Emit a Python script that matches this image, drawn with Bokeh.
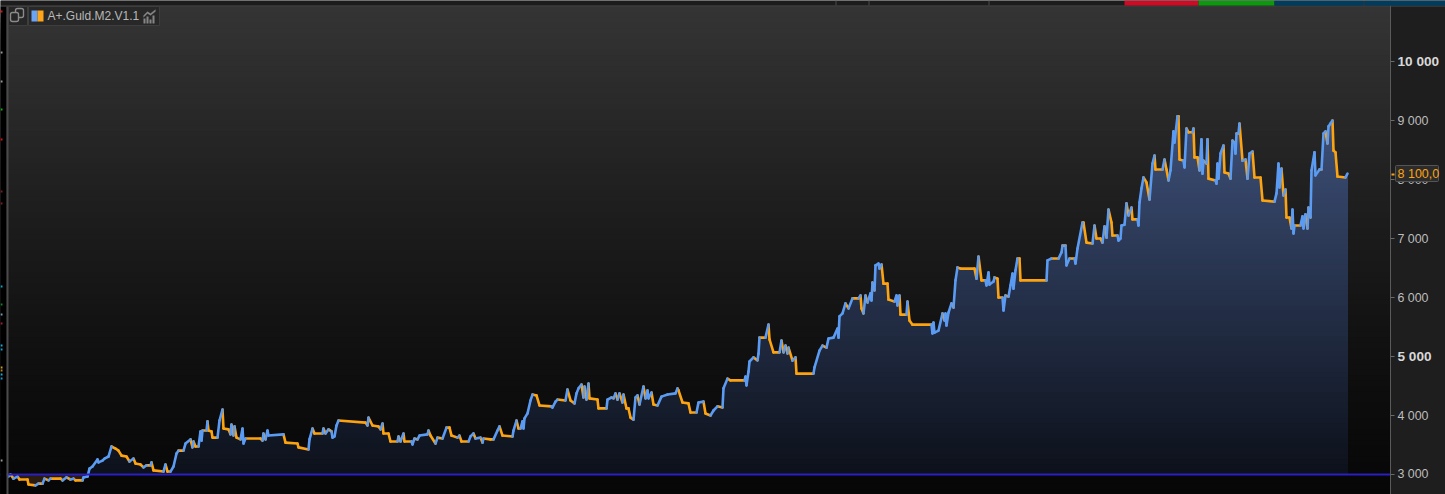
from bokeh.plotting import figure
from bokeh.embed import file_html
from bokeh.resources import INLINE
from bokeh.models import (BoxAnnotation, ColumnDataSource, FixedTicker, Label,
                          LinearAxis, PolyAnnotation, Range1d)
import numpy as np

# ---------- data ----------
series_name = "A+.Guld.M2.V1.1"
last_value_label = "8 100,0"
last_value = 8100
baseline_value = 3000
tick_values = [3000, 4000, 5000, 6000, 7000, 8000, 9000, 10000]
tick_labels = ["3 000", "4 000", "", "6 000", "7 000", "8 000", "9 000", ""]
bold_ticks = [(5000, "5 000"), (10000, "10 000")]

bars = [8,10,13,17,19,27,28,35,38,42,44,48,50,60,62,66,70,73,75,82,83,87,89,92,97,98,102,104,108,111,115,118,121,126,129,133,135,140,143,146,150,151,153,163,165,167,170,173,176,178,183,185,190,192,193,195,198,200,201,202,206,207,208,211,212,217,219,222,223,228,230,231,233,234,236,240,242,243,245,260,262,263,265,267,268,283,285,297,298,308,309,312,314,322,323,325,328,331,332,334,336,338,365,367,368,372,378,380,382,383,388,390,397,398,400,403,404,411,412,414,417,419,427,428,430,435,437,442,446,449,451,457,459,461,468,470,473,475,480,482,483,490,493,497,499,502,512,513,516,518,520,522,523,524,527,530,532,536,539,551,552,555,557,565,567,570,574,576,578,581,583,584,586,588,589,597,598,606,607,611,613,615,617,619,622,623,626,628,630,633,635,637,639,643,645,647,648,651,653,657,661,667,675,677,678,682,688,690,696,698,703,705,710,713,717,722,723,727,730,744,745,746,748,749,753,757,758,759,765,768,769,773,779,781,783,785,787,788,792,795,796,813,814,819,822,826,828,833,837,838,839,842,845,848,852,858,860,861,863,865,867,870,871,872,874,875,878,879,881,883,887,888,894,896,897,899,900,906,907,909,912,931,932,933,934,938,942,944,945,946,948,951,953,955,957,960,974,976,978,981,985,986,988,989,993,994,997,998,1002,1003,1005,1008,1010,1012,1013,1015,1017,1019,1020,1046,1047,1051,1058,1061,1062,1065,1066,1069,1074,1075,1077,1082,1083,1086,1092,1094,1096,1100,1102,1104,1106,1108,1111,1112,1117,1118,1120,1121,1124,1126,1128,1131,1132,1137,1138,1139,1141,1143,1146,1149,1152,1154,1155,1162,1164,1166,1168,1170,1173,1174,1177,1178,1179,1183,1184,1186,1188,1192,1193,1194,1197,1199,1201,1202,1203,1206,1207,1208,1215,1216,1217,1218,1220,1223,1224,1228,1230,1232,1234,1235,1236,1238,1239,1242,1245,1247,1249,1252,1254,1260,1262,1274,1276,1278,1279,1281,1283,1285,1286,1289,1291,1292,1293,1294,1300,1302,1303,1305,1307,1308,1310,1311,1314,1315,1319,1321,1323,1325,1327,1328,1330,1332,1333,1335,1337,1345,1347]

equity = [2965,3000,2930,2965,2915,2915,2830,2815,2845,2845,2930,2900,2930,2930,2900,2950,2915,2930,2900,2900,2950,2965,3100,3135,3255,3205,3235,3270,3305,3475,3440,3405,3320,3305,3220,3270,3185,3170,3120,3155,3155,3205,3070,3050,3170,3050,3050,3135,3355,3405,3405,3525,3595,3460,3560,3475,3475,3730,3575,3745,3745,3900,3745,3730,3625,3625,3915,4100,3780,3765,3680,3845,3660,3815,3625,3595,3780,3525,3610,3610,3575,3695,3595,3745,3660,3680,3540,3525,3460,3425,3595,3780,3695,3695,3780,3695,3765,3730,3625,3645,3830,3915,3880,3830,3965,3830,3815,3765,3865,3695,3695,3560,3560,3645,3560,3695,3560,3560,3510,3610,3595,3660,3680,3745,3660,3525,3625,3610,3795,3795,3660,3625,3660,3560,3560,3645,3695,3610,3625,3540,3610,3595,3595,3745,3815,3660,3645,3745,3915,3780,3780,3900,3780,3950,4035,4255,4355,4340,4170,4155,4135,4235,4270,4255,4440,4255,4205,4375,4460,4525,4305,4490,4270,4540,4290,4270,4120,4120,4270,4305,4290,4375,4270,4375,4220,4355,4120,4120,3965,3930,4305,4340,4185,4490,4290,4425,4290,4390,4185,4170,4320,4355,4375,4460,4425,4220,4205,4050,4050,4220,4235,4035,4000,4085,4155,4135,4460,4625,4595,4595,4660,4510,4745,4915,4985,4935,5050,5320,5320,5540,5290,5070,5070,5270,5070,5185,5050,5150,4930,4985,4710,4710,4815,5100,5185,5150,5305,5320,5475,5320,5680,5730,5900,5815,5985,5985,6035,5815,5730,6035,5915,6070,5950,6255,6120,6545,6575,6490,6560,6235,6235,5965,5930,6035,5865,6035,5710,5710,5930,5610,5540,5540,5390,5575,5405,5440,5730,5610,5730,5525,5745,5900,5830,6290,6510,6490,6490,6320,6695,6290,6290,6205,6425,6220,6270,6340,6320,6000,6000,5780,6035,6015,6205,6405,6150,6460,6660,6660,6290,6290,6630,6660,6660,6765,6880,6880,6545,6660,6660,6575,6830,7270,7270,6930,6915,7220,7000,7000,6930,7205,7015,7490,7270,7050,7050,6965,7000,7220,7235,7595,7390,7525,7325,7325,7220,7610,7850,8035,7950,7660,8270,8405,8170,8170,8340,8170,7985,8155,8815,8625,9070,9070,8340,8320,8205,8865,8800,8800,8865,8375,8375,8155,8680,8100,8320,8270,8680,8015,7985,7930,8270,8015,8440,8575,8120,8100,8015,8660,8625,8440,8780,8780,8950,8320,8340,8015,8440,8475,8035,8035,7645,7625,7765,8270,7865,8185,7730,7830,7355,7355,7170,7490,7085,7220,7220,7375,7170,7410,7170,7525,7355,8155,8460,8070,8170,8170,8780,8815,8610,8900,8950,9000,8490,8460,8050,8035,8100]

# ---------- canvas geometry ----------
W, H = 1445, 494
AXIS_X = 1390
Y_TOP, Y_BOTTOM = 11034, 2661
FRAME_TOP = Y_TOP - (Y_TOP - Y_BOTTOM) * 6 / H   # value at the plot's top edge

p = figure(width=W, height=H, output_backend="svg", toolbar_location=None,
           x_range=Range1d(0, W), y_range=Range1d(Y_BOTTOM, Y_TOP),
           x_axis_type=None, y_axis_type=None,
           min_border_left=0, min_border_right=0, min_border_top=0, min_border_bottom=0)
p.styles = {"position": "absolute", "left": "0", "top": "0"}
p.grid.visible = False
p.outline_line_color = None
p.border_fill_color = "#1e1e1e"
p.background_fill_color = "#1e1e1e"

# background gradient (each band reaches the bottom, so no seams)
bg_stops_y = [0.0, 0.2, 0.48, 0.70, 1.0]
bg_stops_g = [0x34, 0x29, 0x1a, 0x10, 0x06]
for t in np.linspace(0, 1, 90, endpoint=False):
    g = int(round(np.interp(t, bg_stops_y, bg_stops_g)))
    p.quad(left=0, right=AXIS_X, bottom=Y_BOTTOM,
           top=FRAME_TOP - t * (FRAME_TOP - Y_BOTTOM), color=f"#{g:02x}{g:02x}{g:02x}", line_width=0)

# area gradient under the curve
x = np.array(bars, float)
y = np.array(equity, float)
base = np.full_like(y, baseline_value)
levels = np.linspace(max(equity), baseline_value, 70, endpoint=False)
lo, hi = np.array([0x0c, 0x10, 0x1a]), np.array([0x3d, 0x50, 0x78])
for lv in levels:
    t = (lv - baseline_value) / (max(equity) - baseline_value)
    c = (lo + (hi - lo) * t).round().astype(int)
    p.varea(x=x, y1=base, y2=np.maximum(np.minimum(y, lv), base), color=f"#{c[0]:02x}{c[1]:02x}{c[2]:02x}")
p.varea(x=x, y1=np.minimum(y, base), y2=base, color="#2a1c10")

# the curve: blue while rising and in the narrowest dips, orange while flat or falling
BLUE, ORANGE = "#5b9bf2", "#fca311"
seg_colors = []
for i in range(len(equity) - 1):
    rising = equity[i + 1] > equity[i]
    dip = (not rising and i + 2 < len(equity) and equity[i + 2] > equity[i + 1]
           and bars[i + 1] - bars[i] <= 1)
    seg_colors.append(BLUE if rising or dip else ORANGE)
idx_o = [i for i, c in enumerate(seg_colors) if c == ORANGE]
idx_b = [i for i, c in enumerate(seg_colors) if c == BLUE]
for idx, col in ((idx_o, ORANGE), (idx_b, BLUE)):
    src = ColumnDataSource(dict(x0=[bars[i] for i in idx], y0=[equity[i] for i in idx],
                                x1=[bars[i + 1] for i in idx], y1=[equity[i + 1] for i in idx]))
    p.segment("x0", "y0", "x1", "y1", source=src, color=col, line_width=2.6, line_cap="round")

# baseline
p.segment(x0=[0], y0=[baseline_value], x1=[AXIS_X], y1=[baseline_value], color="#2a1fc4", line_width=1.8)

# right axis, drawn at a fixed place inside the frame
ax = LinearAxis(ticker=FixedTicker(ticks=tick_values))
ax.major_label_overrides = dict(zip(tick_values, tick_labels))
ax.axis_line_color = "#5a5a5a"
ax.major_tick_line_color = "#6a6a6a"
ax.major_tick_out = 4
ax.major_tick_in = 0
ax.minor_tick_line_color = None
ax.major_label_standoff = 3
ax.major_label_text_font = "Liberation Sans"
ax.major_label_text_font_size = "12.4px"
ax.major_label_text_color = "#bdbdbd"
ax.fixed_location = AXIS_X
p.add_layout(ax, "right")

for val, txt in bold_ticks:
    p.add_layout(Label(x=1397, y=val, x_units="screen", y_units="data", text=txt,
                       text_font="Liberation Sans", text_font_size="13.6px", text_font_style="bold",
                       text_color="#d8d8d8", text_baseline="middle", level="overlay"))

def box(l, r, t, b, fill, line=None, radius=0, lw=1):
    p.add_layout(BoxAnnotation(left=l, right=r, top=H - t, bottom=H - b,
                               left_units="screen", right_units="screen",
                               top_units="screen", bottom_units="screen",
                               fill_color=fill, fill_alpha=1 if fill else 0,
                               line_color=line, line_width=lw, line_alpha=1 if line else 0,
                               border_radius=radius, level="overlay"))

# chrome: left strip with its small markers, top strip
box(0, 6, 6, H, "#000000")
box(6, 8, 6, H, "#4a4a4a")
for yy, cc in [(10, "#e01010"), (51, "#9a9a9a"), (80, "#9a9a9a"), (108, "#10b010"), (138, "#e01010"),
               (190, "#7a1c24"), (202, "#7a1c24"), (285, "#12a0c0"), (303, "#108020"), (313, "#8098b0"),
               (322, "#a02030"), (344, "#10b0e0"), (348, "#10a0d0"), (366, "#c0a030"), (369, "#c08010"),
               (373, "#10b0e0"), (377, "#10a0d0"), (459, "#9a9a9a")]:
    box(0, 2, yy, yy + 2, cc)
box(0, W, 0, 5, "#1c1c1c")
box(0, W, 5, 6, "#4a4a4a")
for sx in [835, 868, 988, 1363]:
    box(sx, sx + 1, 0, 5, "#4a4a4a")
box(1124, 1198, 0, 5, "#d00a24")
box(1198, 1274, 0, 5, "#0b9a0b")
box(1274, 1363, 0, 5, "#003c5e")
box(1364, W, 0, 5, "#003c5e")

# value box at the axis
box(1391, 1394, 173, 175, ORANGE)
box(1395, 1438, 165, 181, "#2c2c2c", "#555555", 1)
p.add_layout(Label(x=1397, y=last_value, x_units="screen", y_units="data", text=last_value_label,
                   text_font="Liberation Sans", text_font_size="12.5px",
                   text_color=ORANGE, text_baseline="middle", level="overlay"))

# legend chip
box(8, 27, 6, 25, "#262626", "#3e3e3e")
box(15, 23, 8, 17, None, "#8a8a8a", 2, 1.4)
box(10, 18, 12, 21, "#262626", "#8a8a8a", 2, 1.4)
box(28, 159, 6, 25, "#282828", "#3e3e3e")
box(31, 37, 10, 21, "#6aa5f5")
box(37, 43, 10, 21, "#ffa51a")
p.add_layout(Label(x=47, y=H - 15, x_units="screen", y_units="screen", text=series_name,
                   text_font="Liberation Sans", text_font_size="12px",
                   text_color="#b8b8b8", text_baseline="middle", level="overlay"))
for l, t in [(143, 18), (146, 16), (149, 19), (152, 15)]:
    box(l, l + 2, t, 23, "#858585")
p.add_layout(PolyAnnotation(xs=[143, 147, 150, 155, 155, 150, 147, 143],
                            ys=[H - v for v in (15, 11, 13, 9, 11, 15, 13, 17)],
                            xs_units="screen", ys_units="screen", level="overlay",
                            fill_color="#858585", fill_alpha=1, line_color="#858585", line_width=0.5))

open("out.html", "w").write(file_html(p, INLINE))
